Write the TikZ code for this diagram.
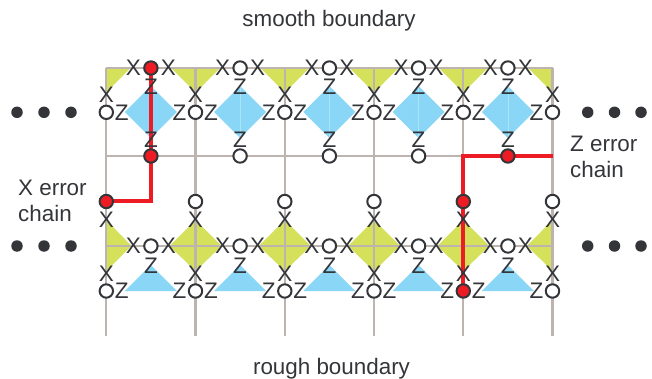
\documentclass[tikz,border=0pt]{standalone}
\usepackage{fontspec}
\usetikzlibrary{calc}
\setmainfont{Liberation Sans}
\definecolor{gridc}{HTML}{BDB4AF}
\definecolor{redc}{HTML}{ED1C24}
\definecolor{darkc}{HTML}{333539}
\definecolor{yelc}{HTML}{D5E05B}
\definecolor{bluc}{HTML}{8AD6F7}
\tikzset{
  qubit/.style={circle,draw=darkc,line width=2pt,fill=white,minimum size=13.4pt,inner sep=0pt},
  errq/.style={qubit,fill=redc},
  lett/.style={inner sep=0pt,text=darkc,font=\fontsize{22.5}{23}\selectfont},
  lab/.style={inner sep=0pt,text=darkc,font=\fontsize{22.4}{26}\selectfont,align=left},
  gridl/.style={draw=gridc,line width=2.2pt},
  chain/.style={draw=redc,line width=4pt},
  yel/.style={fill=yelc},
  blu/.style={fill=bluc},
  seam/.style={draw=white,opacity=.3,line width=.5pt},
  dotn/.style={circle,fill=darkc,minimum size=11.5pt,inner sep=0pt}
}
\begin{document}
\begin{tikzpicture}[x=1pt,y=-1pt]
\useasboundingbox (0,0) rectangle (652,379);
% grid anchors
\foreach \i/\x in {0/106.3,1/195.5,2/284.8,3/374,4/463.3,5/552.5}{
  \coordinate (vt\i) at (\x,68);
  \coordinate (vb\i) at (\x,336);
}
\coordinate (hm0) at (106.3,156); \coordinate (hm5) at (552.5,156);
\coordinate (hl0) at (106.3,246); \coordinate (hl5) at (552.5,246);
% yellow plaquettes, top row
\fill[yel] (106.8,68.5) -- (130,68.5) -- (106.8,92) -- cycle;
\foreach \x in {195.5,284.8,374,463.3}
  \fill[yel] (\x-24,68.5) -- (\x+24,68.5) -- (\x,92.5) -- cycle;
\fill[yel] (552,68.5) -- (528.5,68.5) -- (552,92) -- cycle;
% blue diamonds
\foreach \x in {150.9,240.1,329.4,418.6,507.9}{
  \fill[blu] (\x-26,112) -- (\x,86) -- (\x+26,112) -- (\x,138) -- cycle;
  \draw[seam] (\x,86) -- (\x,138);
}
% yellow plaquettes, lower row
\fill[yel] (106.3,220) -- (131.5,246) -- (106.3,271) -- cycle;
\foreach \x in {195.5,284.8,374,463.3}
  \fill[yel] (\x-26,246) -- (\x,220) -- (\x+26,246) -- (\x,271) -- cycle;
\fill[yel] (552.5,220) -- (527,246) -- (552.5,271) -- cycle;
% blue triangles
\foreach \x in {150.9,240.1,329.4,418.6,507.9}
  \fill[blu] (\x-26,291) -- (\x,265) -- (\x+26,291) -- cycle;
% grid
\foreach \i in {0,...,5} \draw[gridl] (vt\i) -- (vb\i);
\draw[gridl] (vt0) -- (vt5);
\draw[gridl] (hm0) -- (hm5);
\draw[gridl] (hl0) -- (hl5);
% qubit positions
\foreach \i/\x in {1/150.9,2/240.1,3/329.4,4/418.6,5/507.9}{
  \coordinate (pa\i) at (\x,68);
  \coordinate (pc\i) at (\x,156);
  \coordinate (pe\i) at (\x,246);
}
\foreach \i/\x in {0/106.3,1/195.5,2/284.8,3/374,4/463.3,5/552.5}{
  \coordinate (pb\i) at (\x,112.3);
  \coordinate (pd\i) at (\x,201.5);
  \coordinate (pf\i) at (\x,291);
}
% error chains
\draw[chain] (pd0) -- (pd0 -| pc1) -- (pc1) -- (pa1);
\draw[chain] (hm5) -- (pc4 -| pd4) -- (pd4) -- (pf4);
% letters
\foreach \i in {1,...,5}{
  \node[lett] (al\i) at ($(pa\i)+(-17.5,-.5)$) {X};
  \node[lett] (ar\i) at ($(pa\i)+(17.5,-.5)$) {X};
  \node[lett] (az\i) at ($(pa\i)+(0,18.5)$) {Z};
  \node[lett] (cz\i) at ($(pc\i)+(0,-16.5)$) {Z};
  \node[lett] (el\i) at ($(pe\i)+(-17.5,0)$) {X};
  \node[lett] (er\i) at ($(pe\i)+(17.5,0)$) {X};
  \node[lett] (ez\i) at ($(pe\i)+(0,19.5)$) {Z};
}
\foreach \i in {0,...,5}{
  \node[lett] (bx\i) at ($(pb\i)+(0,-17.5)$) {X};
  \node[lett] (dx\i) at ($(pd\i)+(0,18.5)$) {X};
  \node[lett] (fx\i) at ($(pf\i)+(0,-17.5)$) {X};
}
\foreach \i in {0,...,4}{
  \node[lett] (br\i) at ($(pb\i)+(15.5,0)$) {Z};
  \node[lett] (fr\i) at ($(pf\i)+(15.5,0)$) {Z};
}
\foreach \i in {1,...,5}{
  \node[lett] (bl\i) at ($(pb\i)+(-16,0)$) {Z};
  \node[lett] (fl\i) at ($(pf\i)+(-16,0)$) {Z};
}
% qubit circles
\node[errq] (qa1) at (pa1) {};
\foreach \i in {2,...,5} \node[qubit] (qa\i) at (pa\i) {};
\foreach \i in {0,...,5} \node[qubit] (qb\i) at (pb\i) {};
\node[errq] (qc1) at (pc1) {};
\foreach \i in {2,3,4} \node[qubit] (qc\i) at (pc\i) {};
\node[errq] (qc5) at (pc5) {};
\node[errq] (qd0) at (pd0) {};
\foreach \i in {1,2,3,5} \node[qubit] (qd\i) at (pd\i) {};
\node[errq] (qd4) at (pd4) {};
\foreach \i in {1,...,5} \node[qubit] (qe\i) at (pe\i) {};
\foreach \i in {0,1,2,3,5} \node[qubit] (qf\i) at (pf\i) {};
\node[errq] (qf4) at (pf4) {};
% ellipsis dots
\foreach \n/\x in {1/17,2/44,3/71}{
  \node[dotn] (dla\n) at (\x,112.3) {};
  \node[dotn] (dlb\n) at (\x,246) {};
}
\foreach \n/\x in {1/587.7,2/614.5,3/641}{
  \node[dotn] (dra\n) at (\x,112.3) {};
  \node[dotn] (drb\n) at (\x,246) {};
}
% labels
\node[lab] (smooth) at (329,20.5) {smooth boundary};
\node[lab] (rough) at (331.5,368.5) {rough boundary};
\node[lab,anchor=west] (xchain) at (18,201) {X error\\chain};
\node[lab,anchor=west] (zchain) at (570,156.5) {Z error\\chain};
\end{tikzpicture}
\end{document}
